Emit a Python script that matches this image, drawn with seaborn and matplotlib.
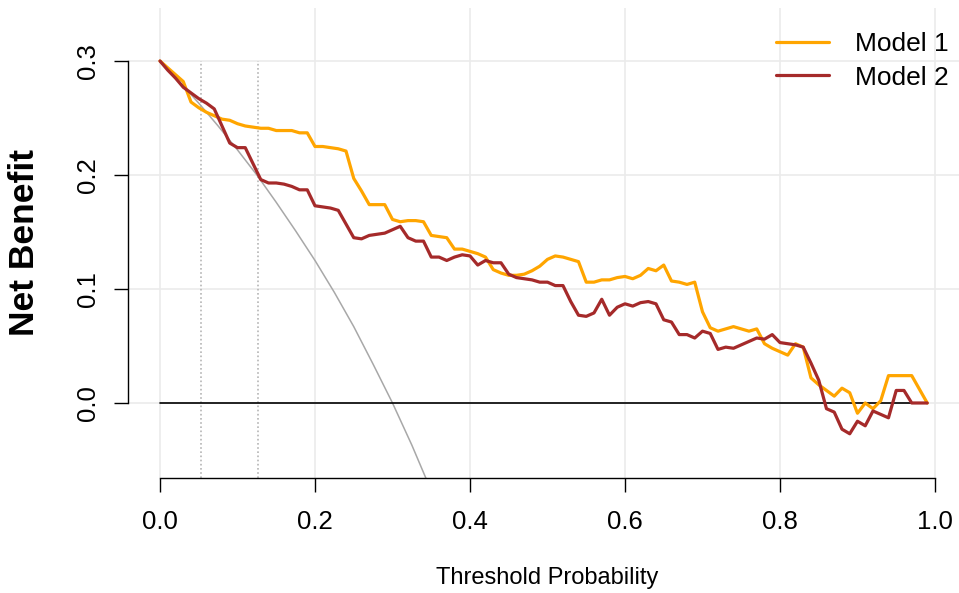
import numpy as np
import pandas as pd
import matplotlib
matplotlib.use('Agg')
import matplotlib.pyplot as plt
import seaborn as sns

# thresholds 0.00 .. 0.99
thresholds = np.round(np.arange(0, 1.0, 0.01), 2)

model1 = [0.300, 0.294, 0.288, 0.282, 0.264, 0.259, 0.255, 0.252, 0.249, 0.248,
          0.245, 0.243, 0.242, 0.241, 0.241, 0.239, 0.239, 0.239, 0.237, 0.237,
          0.225, 0.225, 0.224, 0.223, 0.221, 0.197, 0.186, 0.174, 0.174, 0.174,
          0.161, 0.159, 0.160, 0.160, 0.159, 0.147, 0.146, 0.145, 0.135, 0.135,
          0.133, 0.131, 0.128, 0.117, 0.114, 0.112, 0.112, 0.113, 0.116, 0.120,
          0.126, 0.129, 0.128, 0.126, 0.124, 0.106, 0.106, 0.108, 0.108, 0.110,
          0.111, 0.109, 0.112, 0.118, 0.116, 0.121, 0.107, 0.106, 0.104, 0.106,
          0.080, 0.066, 0.063, 0.065, 0.067, 0.065, 0.063, 0.065, 0.052, 0.048,
          0.045, 0.042, 0.052, 0.049, 0.022, 0.016, 0.011, 0.006, 0.013, 0.009,
          -0.009, 0.000, -0.005, 0.002, 0.024, 0.024, 0.024, 0.024, 0.012, 0.000]

model2 = [0.300, 0.292, 0.285, 0.277, 0.272, 0.267, 0.263, 0.258, 0.243, 0.228,
          0.224, 0.224, 0.210, 0.196, 0.193, 0.193, 0.192, 0.190, 0.187, 0.187,
          0.173, 0.172, 0.171, 0.169, 0.157, 0.145, 0.144, 0.147, 0.148, 0.149,
          0.152, 0.155, 0.145, 0.142, 0.142, 0.128, 0.128, 0.125, 0.128, 0.130,
          0.129, 0.121, 0.125, 0.123, 0.123, 0.113, 0.110, 0.109, 0.108, 0.106,
          0.106, 0.103, 0.103, 0.089, 0.077, 0.076, 0.079, 0.091, 0.077, 0.084,
          0.087, 0.085, 0.088, 0.089, 0.087, 0.073, 0.071, 0.060, 0.060, 0.057,
          0.063, 0.061, 0.047, 0.049, 0.048, 0.051, 0.054, 0.057, 0.056, 0.060,
          0.053, 0.052, 0.051, 0.049, 0.035, 0.020, -0.005, -0.008, -0.023, -0.027,
          -0.016, -0.020, -0.007, -0.010, -0.013, 0.011, 0.011, 0.000, 0.000, 0.000]

treat_none = [0.0] * len(thresholds)

# "treat all" curve
treat_all_x = [0.0, 0.025, 0.05, 0.075, 0.1, 0.125, 0.15, 0.175, 0.2,
               0.225, 0.25, 0.275, 0.3, 0.325, 0.35]
treat_all_nb = [0.300, 0.282, 0.263, 0.243, 0.222, 0.200, 0.176, 0.151, 0.125,
                0.097, 0.067, 0.034, 0.000, -0.037, -0.077]

cutoffs = [0.053, 0.127]

df = pd.DataFrame({
    'threshold': np.concatenate([thresholds, thresholds]),
    'net_benefit': model1 + model2,
    'model': ['Model 1'] * len(thresholds) + ['Model 2'] * len(thresholds),
})

sns.set_style('white')
plt.rcParams['font.family'] = ['Liberation Sans', 'DejaVu Sans']
plt.rcParams['text.color'] = 'black'
plt.rcParams['axes.labelcolor'] = 'black'
plt.rcParams['xtick.color'] = 'black'
plt.rcParams['ytick.color'] = 'black'

fig = plt.figure(figsize=(9.59, 5.93), dpi=100)
ax = fig.add_axes([128 / 959, 115 / 593, 831 / 959, 470 / 593])
ax.set_xlim(-0.0413, 1.031)
ax.set_ylim(-0.0658, 0.3465)

ax.set_xticks([0, 0.2, 0.4, 0.6, 0.8, 1.0])
ax.set_yticks([0, 0.1, 0.2, 0.3])
ax.set_xticklabels(['0.0', '0.2', '0.4', '0.6', '0.8', '1.0'])
ax.set_yticklabels(['0.0', '0.1', '0.2', '0.3'], rotation=90, va='center')
ax.grid(True, color='#ebebeb', lw=1.2)
ax.set_axisbelow(True)

for s in ['top', 'right']:
    ax.spines[s].set_visible(False)
ax.spines['left'].set_bounds(0, 0.3)
ax.spines['bottom'].set_bounds(0, 1)
for s in ['left', 'bottom']:
    ax.spines[s].set_color('black')
    ax.spines[s].set_linewidth(1.0)
ax.tick_params(axis='both', bottom=True, left=True, direction='out',
               length=10, width=1.0, color='black', labelcolor='black',
               labelsize=18.5)
ax.tick_params(axis='x', pad=13)
ax.tick_params(axis='y', pad=10)

ax.vlines(cutoffs, ymin=-0.0658, ymax=0.3, colors='#b5b5b5',
          linestyles=(0, (1, 1.5)), lw=1.2)
ax.plot(treat_all_x, treat_all_nb, color='#a8a8a8', lw=1.1)
ax.plot(thresholds, treat_none, color='black', lw=1.2)

sns.lineplot(data=df, x='threshold', y='net_benefit', hue='model',
             palette=['#ffa500', '#a52a2a'], lw=2.3, ax=ax)

handles, labels = ax.get_legend_handles_labels()
ax.legend(handles, labels, frameon=False, loc='upper right',
          bbox_to_anchor=(949 / 959, 0.946), bbox_transform=fig.transFigure,
          fontsize=19, handlelength=2.0, handletextpad=1.0, labelspacing=0.36,
          borderpad=0, borderaxespad=0)

ax.set_xlabel('Threshold Probability', fontsize=17, va='center')
ax.xaxis.set_label_coords(0.5048, -0.2128)
ax.set_ylabel('Net Benefit', fontsize=25.5, fontweight='bold', va='center')
ax.yaxis.set_label_coords(-0.124, 0.5)

fig.savefig('out.png', dpi=100)
